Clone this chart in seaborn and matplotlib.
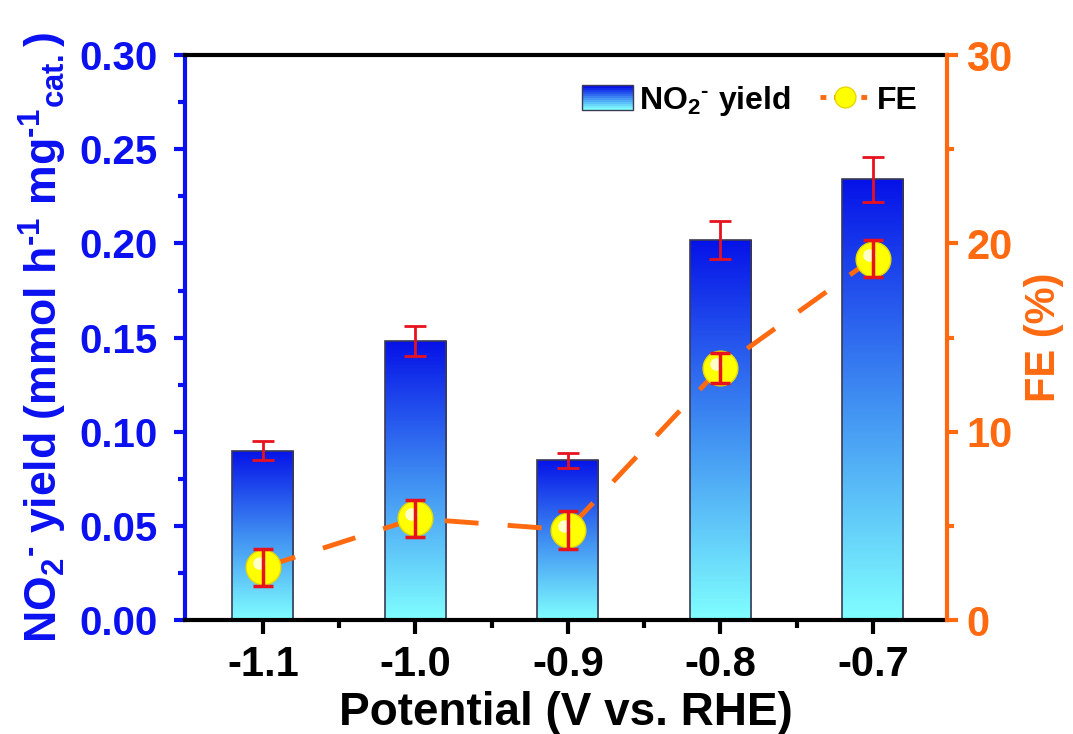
import numpy as np
import pandas as pd
import matplotlib
matplotlib.use("Agg")
import matplotlib.pyplot as plt
import matplotlib.transforms as mtransforms
from matplotlib.colors import LinearSegmentedColormap
from matplotlib.legend_handler import HandlerBase
from matplotlib.patches import Rectangle, Patch
from matplotlib.lines import Line2D
from matplotlib.ticker import MultipleLocator, FixedLocator, FormatStrFormatter
import seaborn as sns

# Data
potential = [-1.1, -1.0, -0.9, -0.8, -0.7]
potential_labels = ["-1.1", "-1.0", "-0.9", "-0.8", "-0.7"]
no2_yield = [0.090, 0.148, 0.085, 0.202, 0.234]
no2_yield_err = [0.005, 0.008, 0.004, 0.010, 0.012]
fe = [2.8, 5.4, 4.8, 13.4, 19.2]
fe_err = [1.0, 1.0, 1.0, 0.8, 1.0]

sns.set_theme(style="white")
plt.rcParams["font.family"] = ["Liberation Sans", "DejaVu Sans"]
plt.rcParams["font.weight"] = "bold"
plt.rcParams["text.color"] = "black"
plt.rcParams["axes.labelcolor"] = "black"
plt.rcParams["xtick.color"] = "black"
plt.rcParams["ytick.color"] = "black"
plt.rcParams["axes.unicode_minus"] = False
plt.rcParams["mathtext.fontset"] = "custom"
plt.rcParams["mathtext.rm"] = "Liberation Sans:bold"
plt.rcParams["mathtext.bf"] = "Liberation Sans:bold"
plt.rcParams["mathtext.default"] = "bf"

BLUE = "#0a10f0"
ORANGE = "#ff6a10"
RED = "#e8121e"
HY = "\u2010"  # short hyphen for superscript charges/exponents
grad_cmap = LinearSegmentedColormap.from_list("bar", ["#80ffff", "#3f8ef2", "#0612e8"])

fig = plt.figure(figsize=(10.73, 7.34), dpi=100)
ax = fig.add_axes([0.1724, 0.155, 0.71, 0.77])

df = pd.DataFrame({"potential": potential, "yield": no2_yield})
sns.barplot(data=df, x="potential", y="yield", native_scale=True, width=0.4,
            errorbar=None, ax=ax, color=BLUE, edgecolor="#3a3a55", linewidth=1.2)

# vertical colour gradient inside each bar
grad = np.linspace(0, 1, 256).reshape(-1, 1)
for p in list(ax.patches):
    x0, y0 = p.get_x(), p.get_y()
    w, h = p.get_width(), p.get_height()
    im = ax.imshow(grad, extent=[x0, x0 + w, y0, y0 + h], origin="lower",
                   cmap=grad_cmap, aspect="auto", zorder=p.get_zorder() - 0.1)
    im.set_clip_path(p)
    p.set_facecolor("none")

ax.errorbar(potential, no2_yield, yerr=no2_yield_err, fmt="none", ecolor=RED,
            elinewidth=2, capsize=8, capthick=2, zorder=5)

ax.set_xlim(-1.151, -0.6515)
ax.set_ylim(0, 0.30)
ax.xaxis.set_major_locator(FixedLocator(potential))
ax.set_xticklabels(potential_labels)
ax.xaxis.set_minor_locator(FixedLocator([-1.05, -0.95, -0.85, -0.75]))
ax.yaxis.set_major_locator(MultipleLocator(0.05))
ax.yaxis.set_minor_locator(MultipleLocator(0.025))
ax.yaxis.set_major_formatter(FormatStrFormatter("%.2f"))

ax.tick_params(axis="x", which="major", direction="out", length=10, width=3,
               labelsize=30, colors="black", pad=8, bottom=True)
ax.tick_params(axis="x", which="minor", direction="out", length=6, width=3,
               colors="black", bottom=True)
ax.tick_params(axis="y", which="major", direction="out", length=8, width=3,
               labelsize=29, colors=BLUE, left=True, pad=12)
ax.tick_params(axis="y", which="minor", direction="out", length=5, width=3,
               colors=BLUE, left=True)
for lab in ax.get_xticklabels() + ax.get_yticklabels():
    lab.set_fontweight("bold")

ax.set_xlabel("Potential (V vs. RHE)", fontsize=33, fontweight="bold",
              color="black", labelpad=4)
ax.set_ylabel("NO$_2$$^{" + HY + "}$ yield (mmol h$^{" + HY + "1}$ mg$^{" + HY
              + "1}$$_{cat.}$)", fontsize=32, fontweight="bold", color=BLUE,
              labelpad=7)

for side in ["top", "bottom"]:
    ax.spines[side].set_color("black")
    ax.spines[side].set_linewidth(3)
ax.spines["left"].set_color(BLUE)
ax.spines["left"].set_linewidth(3)
ax.spines["right"].set_visible(False)

# Faradaic efficiency on the secondary axis
ax2 = ax.twinx()
fe_df = pd.DataFrame({"potential": potential, "fe": fe})
sns.lineplot(data=fe_df, x="potential", y="fe", ax=ax2, color=ORANGE,
             linewidth=3.5, dashes=[(7, 6)], style=True, legend=False, zorder=3)
ax2.plot(potential, fe, linestyle="none", marker="o", markersize=25,
         markerfacecolor="#ffff00", markeredgecolor="#e6d800",
         markeredgewidth=1, zorder=4)
shift = mtransforms.ScaledTranslation(-4 / 100, 4 / 100, fig.dpi_scale_trans)
ax2.plot(potential, fe, linestyle="none", marker="o", markersize=9,
         markerfacecolor="#ffffe0", markeredgecolor="none", alpha=0.9,
         transform=ax2.transData + shift, zorder=4.5)
ax2.errorbar(potential, fe, yerr=fe_err, fmt="none", ecolor=RED,
             elinewidth=2.5, capsize=7, capthick=2.5, zorder=6)

ax2.set_ylim(0, 30)
ax2.set_xlim(-1.151, -0.6515)
ax2.yaxis.set_major_locator(MultipleLocator(10))
ax2.yaxis.set_minor_locator(MultipleLocator(5))
ax2.tick_params(axis="y", which="major", direction="out", length=8, width=3,
                labelsize=30, colors=ORANGE, right=True, pad=6)
ax2.tick_params(axis="y", which="minor", direction="out", length=5, width=3,
                colors=ORANGE, right=True)
for lab in ax2.get_yticklabels():
    lab.set_fontweight("bold")
ax2.set_ylabel("FE (%)", fontsize=30, fontweight="bold", color=ORANGE, labelpad=8)
ax2.spines["right"].set_color(ORANGE)
ax2.spines["right"].set_linewidth(3)
for side in ["left", "top", "bottom"]:
    ax2.spines[side].set_visible(False)


class GradientHandler(HandlerBase):
    def create_artists(self, legend, orig_handle, xdescent, ydescent, width,
                       height, fontsize, trans):
        artists = []
        n = 12
        for i in range(n):
            r = Rectangle((-xdescent, -ydescent + height * i / n), width, height / n,
                          facecolor=grad_cmap(i / (n - 1)), edgecolor="none",
                          transform=trans)
            artists.append(r)
        artists.append(Rectangle((-xdescent, -ydescent), width, height,
                                 facecolor="none", edgecolor="#3a3a55",
                                 linewidth=1, transform=trans))
        return artists


bar_handle = Patch(label="bar")
fe_handle = Line2D([], [], color=ORANGE, linestyle=(0, (1.2, 1.6)), linewidth=3.5,
                   marker="o", markersize=15, markerfacecolor="#ffff00",
                   markeredgecolor="#e6d800")
leg = ax2.legend([bar_handle, fe_handle], ["NO$_2$$^{" + HY + "}$ yield", "FE"],
                 handler_map={Patch: GradientHandler()},
                 loc="upper right", bbox_to_anchor=(1.0, 1.0), ncol=2,
                 frameon=False, fontsize=23, handlelength=1.6, handleheight=0.8,
                 columnspacing=0.9, handletextpad=0.2)
for t in leg.get_texts():
    t.set_fontweight("bold")
    t.set_color("black")

fig.savefig("out.png", dpi=100)
